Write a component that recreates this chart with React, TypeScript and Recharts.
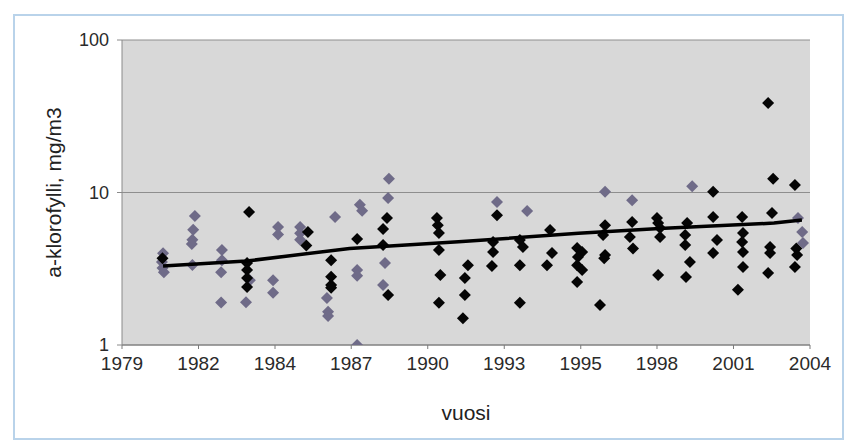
import React from 'react';
import { ScatterChart, Scatter, XAxis, YAxis, CartesianGrid, Label } from 'recharts';

// Excel date axis: one tick every 1000 days, labelled with the year
const yearTicks = [1979.45, 1982.19, 1984.93, 1987.66, 1990.4, 1993.14, 1995.88, 1998.61, 2001.35, 2004.09];
const yearLabels = ['1979', '1982', '1984', '1987', '1990', '1993', '1995', '1998', '2001', '2004'];
const valueTicks = [1, 10, 100];

// [year, a-klorofylli mg/m3]
const grayPoints: [number, number][] = [
  [1980.92, 4.0], [1980.88, 3.5], [1980.95, 3.0], [1980.9, 3.2],
  [1982.06, 7.0], [1982.0, 5.7], [1981.97, 4.9], [1981.95, 4.6], [1981.97, 3.35],
  [1983.03, 4.2], [1983.03, 3.6], [1983.0, 3.0], [1983.0, 1.9],
  [1984.03, 2.66], [1983.89, 1.91],
  [1985.04, 5.95], [1985.04, 5.3], [1984.86, 2.66], [1984.86, 2.2],
  [1985.83, 5.95], [1985.83, 5.4], [1985.83, 4.9],
  [1987.08, 6.9], [1986.79, 2.03], [1986.83, 1.65], [1986.83, 1.55],
  [1987.97, 8.3], [1988.05, 7.6], [1987.87, 3.1], [1987.87, 2.85], [1987.87, 1.0],
  [1989.01, 12.3], [1988.98, 9.2], [1988.87, 3.45], [1988.8, 2.47],
  [1992.88, 8.66],
  [1993.96, 7.56],
  [1996.75, 10.1],
  [1997.72, 8.9],
  [1999.87, 11.0],
  [2003.66, 6.8], [2003.81, 5.5], [2003.84, 4.66],
];

const blackPoints: [number, number][] = [
  [1980.9, 3.7],
  [1984.0, 7.45], [1983.93, 3.45], [1983.93, 3.1], [1983.93, 2.75], [1983.93, 2.4],
  [1986.11, 5.5], [1986.05, 4.5],
  [1986.94, 3.6], [1986.94, 2.8], [1986.94, 2.47], [1986.94, 2.37],
  [1987.87, 4.96],
  [1988.94, 6.8], [1988.8, 5.76], [1988.8, 4.52], [1988.98, 2.13],
  [1990.73, 6.8], [1990.76, 6.1], [1990.8, 5.42], [1990.8, 4.2], [1990.85, 2.88], [1990.8, 1.89],
  [1991.84, 3.34], [1991.73, 2.75], [1991.73, 2.13], [1991.66, 1.5],
  [1992.88, 7.1], [1992.74, 4.74], [1992.74, 4.07], [1992.7, 3.3],
  [1993.7, 4.88], [1993.81, 4.39], [1993.7, 3.34], [1993.7, 1.89],
  [1994.78, 5.67], [1994.85, 4.01], [1994.67, 3.34],
  [1995.75, 4.32], [1995.93, 4.07], [1995.78, 3.78], [1995.75, 3.34], [1995.93, 3.1], [1995.75, 2.59],
  [1996.75, 6.1], [1996.68, 5.27], [1996.75, 3.89], [1996.72, 3.7], [1996.57, 1.83],
  [1997.72, 6.4], [1997.64, 5.1], [1997.75, 4.3],
  [1998.61, 6.8], [1998.65, 6.3], [1998.72, 5.85], [1998.72, 5.1], [1998.65, 2.88],
  [1999.69, 6.3], [1999.62, 5.27], [1999.62, 4.52], [1999.79, 3.5], [1999.65, 2.79],
  [2000.62, 10.1], [2000.62, 6.9], [2000.76, 4.88], [2000.62, 4.01],
  [2001.66, 6.9], [2001.69, 5.42], [2001.66, 4.74], [2001.69, 4.07], [2001.69, 3.25], [2001.51, 2.3],
  [2002.59, 38.6], [2002.77, 12.3], [2002.73, 7.35], [2002.66, 4.39], [2002.66, 4.01], [2002.59, 2.97],
  [2003.55, 11.2], [2003.6, 4.3], [2003.63, 3.89], [2003.55, 3.25],
];

const trendPoints: [number, number][] = [
  [1980.92, 3.3], [1983.9, 3.55], [1987.6, 4.3], [1991.5, 4.75],
  [1995.8, 5.4], [1998.7, 5.8], [2002.8, 6.3], [2003.8, 6.6],
];

const toRows = (pts: [number, number][]) => pts.map(([x, y]) => ({ x, y }));

const font = 'Arial, "Liberation Sans", sans-serif';

const Diamond = (color: string) => (props: any) => {
  const { cx, cy } = props;
  const r = 6;
  return (
    <polygon
      points={`${cx},${cy - r} ${cx + r},${cy} ${cx},${cy + r} ${cx - r},${cy}`}
      fill={color}
    />
  );
};

const NoShape = () => <g />;

export default function App() {
  return (
    <div style={{ position: 'absolute', left: 0, top: 0, width: 847, height: 444, background: '#fff' }}>
      <div
        style={{
          position: 'absolute', left: 13, top: 14, width: 831, height: 426,
          border: '2px solid #b9d3ea', boxSizing: 'border-box',
        }}
      />
      <ScatterChart width={847} height={444} margin={{ top: 40, right: 37, bottom: 59, left: 0 }}>
        <CartesianGrid vertical={false} fill="#d8d8d8" stroke="#8e8e8e" horizontalValues={valueTicks} />
        <XAxis
          type="number"
          dataKey="x"
          domain={[1979.45, 2004.09]}
          ticks={yearTicks}
          tickFormatter={(_v: number, i: number) => yearLabels[i]}
          allowDataOverflow
          height={40}
          stroke="#7a7a7a"
          tickSize={4}
          tickMargin={8}
          tick={{ fontSize: 19, fill: '#2a2a2a', fontFamily: font }}
        >
          <Label value="vuosi" position="bottom" offset={20} style={{ fontSize: 21, fill: '#222', fontFamily: font }} />
        </XAxis>
        <YAxis
          type="number"
          dataKey="y"
          scale="log"
          domain={[1, 100]}
          ticks={valueTicks}
          allowDataOverflow
          width={122}
          stroke="#8a8a8a"
          tickSize={5}
          tickMargin={8}
          tick={{ fontSize: 18, fill: '#2a2a2a', fontFamily: font }}
        >
          <Label
            value="a-klorofylli, mg/m3"
            angle={-90}
            position="insideLeft"
            offset={54}
            style={{ fontSize: 21, fill: '#222', fontFamily: font, textAnchor: 'middle' }}
          />
        </YAxis>
        <Scatter data={toRows(grayPoints)} shape={Diamond('#6f6b88')} isAnimationActive={false} />
        <Scatter data={toRows(blackPoints)} shape={Diamond('#050505')} isAnimationActive={false} />
        <Scatter
          data={toRows(trendPoints)}
          shape={NoShape}
          line={{ stroke: '#000', strokeWidth: 3.5 }}
          lineType="joint"
          isAnimationActive={false}
        />
      </ScatterChart>
    </div>
  );
}
